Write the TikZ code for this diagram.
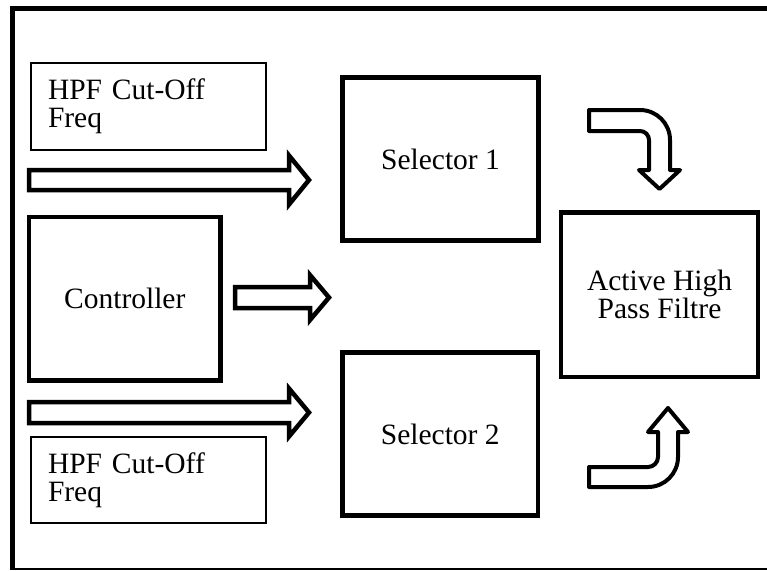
\documentclass[tikz,border=0pt]{standalone}
\usepackage{fontspec}
\setmainfont{Liberation Serif}
\begin{document}
\begin{tikzpicture}[x=1pt,y=-1pt,
  txt/.style={font=\fontsize{29.5}{28}\selectfont},
  block/.style={draw, line width=4.5pt, inner sep=0pt, align=center, txt},
  note/.style={draw, line width=1.4pt, minimum height=87pt, text width=201pt,
    inner xsep=17pt, inner ysep=0pt, align=left, txt},
  fat/.style={draw, line width=4.5pt, line join=miter, fill=white},
  bent/.style={draw, line width=4pt, line join=round, fill=white},
]
\useasboundingbox (0,0) rectangle (767,570);
\clip (0,0) rectangle (767,570);
% outer frame: heavy top and left rules, light bottom rule
\draw[line width=4.5pt] (800,8.7) -- (12.5,8.7) -- (12.5,569);
\draw[line width=2pt] (10.25,569) -- (800,569);

% cut-off frequency inputs
\node[note] (hpf1) at (148.5,106.5) {HPF Cut-Off\\Freq};
\node[note, minimum height=86pt] (hpf2) at (148.5,480) {HPF Cut-Off\\Freq};

% main blocks
\node[block, minimum width=191.5pt, minimum height=163.5pt] (ctrl) at (124.75,298.75) {Controller};
\node[block, minimum width=196pt, minimum height=163pt] (sel1) at (440.5,159) {Selector 1};
\node[block, minimum width=195.5pt, minimum height=163pt] (sel2) at (440.25,434) {Selector 2};
\node[block, minimum width=197pt, minimum height=164.5pt] (ahpf) at (659.5,294.75) {Active High\\Pass Filtre};

% straight block arrows
\draw[fat] (29,170) -- (289,170) -- (289,155.5) -- (309,180) -- (289,204.5) -- (289,190) -- (29,190) -- cycle;
\draw[fat] (29,402) -- (289,402) -- (289,388.5) -- (309,412.5) -- (289,436.5) -- (289,423) -- (29,423) -- cycle;
\draw[fat] (235,287) -- (310,287) -- (310,275) -- (329,297.5) -- (310,320) -- (310,308) -- (235,308) -- cycle;

% bent arrow into the filter from above
\draw[bent] (589,110) -- (640,110) .. controls (656.6,110) and (670,123.4) .. (670,140)
  -- (670,170) -- (680,170) -- (659.5,189) -- (639,170) -- (649,170) -- (649,140)
  .. controls (649,135) and (645,131) .. (640,131) -- (589,131) -- cycle;

% bent arrow into the filter from below
\draw[bent] (589,467) -- (648,467) .. controls (653.5,467) and (658,462.5) .. (658,457)
  -- (658,432) -- (648,432) -- (668,408) -- (688,432) -- (678,432) -- (678,457)
  .. controls (678,473.6) and (664.6,487) .. (648,487) -- (589,487) -- cycle;
\end{tikzpicture}
\end{document}
